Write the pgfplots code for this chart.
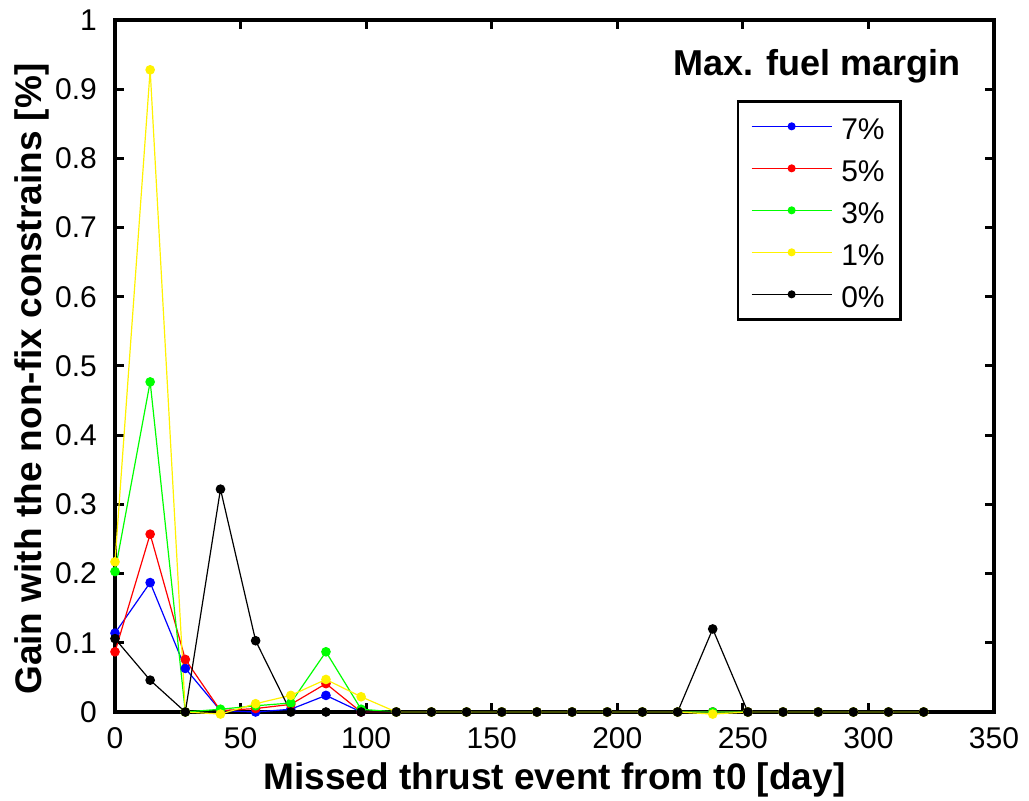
\documentclass[border=0pt]{standalone}
\usepackage{fontspec}
\setmainfont{Liberation Sans}
\usepackage{pgfplots}
\pgfplotsset{compat=1.18}

% gain per missed thrust event day, one table per fuel margin
\pgfplotstableread{
x    y
0    0.114
14   0.187
28   0.063
42   0.002
56   0.000
70   0.004
84   0.024
98   0.000
112  0
126  0
140  0
154  0
168  0
182  0
196  0
210  0
224  0
238  0
252  0
266  0
280  0
294  0
308  0
322  0
}\marginseven
\pgfplotstableread{
x    y
0    0.087
14   0.257
28   0.076
42   0.002
56   0.005
70   0.011
84   0.041
98   0.000
112  0
126  0
140  0
154  0
168  0
182  0
196  0
210  0
224  0
238  0
252  0
266  0
280  0
294  0
308  0
322  0
}\marginfive
\pgfplotstableread{
x    y
0    0.203
14   0.477
28   0.000
42   0.004
56   0.009
70   0.013
84   0.087
98   0.004
112  0
126  0
140  0
154  0
168  0
182  0
196  0
210  0
224  0
238  0
252  0
266  0
280  0
294  0
308  0
322  0
}\marginthree
\pgfplotstableread{
x    y
0    0.217
14   0.928
28   0.000
42   -0.003
56   0.012
70   0.024
84   0.047
98   0.022
112  0
126  0
140  0
154  0
168  0
182  0
196  0
210  0
224  0
238  -0.003
252  0
266  0
280  0
294  0
308  0
322  0
}\marginone
\pgfplotstableread{
x    y
0    0.106
14   0.046
28   0.000
42   0.322
56   0.103
70   0
84   0
98   0
112  0
126  0
140  0
154  0
168  0
182  0
196  0
210  0
224  0
238  0.120
252  0
266  0
280  0
294  0
308  0
322  0
}\marginzero

\begin{document}
\begin{tikzpicture}
\begin{axis}[
    name=ax,
    scale only axis,
    width=879pt, height=692pt,
    xmin=0, xmax=350, ymin=0, ymax=1,
    xtick={0,50,...,350},
    ytick={0,0.1,...,1},
    yticklabels={0,0.1,0.2,0.3,0.4,0.5,0.6,0.7,0.8,0.9,1},
    /pgf/number format/assume math mode=true,
    tick align=inside,
    major tick length=9pt,
    every tick/.style={black, line width=3pt},
    axis line style={line width=4pt},
    ticklabel style={font=\fontsize{30}{32}\selectfont, inner sep=0pt},
    xticklabel style={yshift=-15pt},
    yticklabel style={xshift=-18pt},
    xlabel={Missed thrust event from t0 [day]},
    ylabel={Gain with the non-fix constrains [\%]},
    label style={font=\fontsize{37}{40}\selectfont\bfseries, inner sep=0pt},
    xlabel style={at={(axis description cs:0.5,-0.1127)}, anchor=base},
    ylabel style={at={(axis description cs:-0.0835,0.481)}, anchor=base, rotate=0},
    clip=false,
    every axis plot/.append style={line width=1.2pt, mark=*, mark size=4.2pt},
    legend cell align=left,
    legend image code/.code={%
        \draw[#1, line width=1.2pt, mark=none] (0pt,0pt) -- (80pt,0pt);
        \fill[#1, mark=none] (40pt,0pt) circle[radius=3.4pt];},
    legend style={
        at={(axis description cs:0.8953,0.8844)}, anchor=north east,
        draw=black, line width=2.7pt,
        font=\fontsize{30}{32}\selectfont,
        inner xsep=13pt, inner ysep=9pt,
        row sep=10pt, column sep=6pt,
        nodes={inner sep=3pt, text height=26pt, text depth=0pt},
    },
]
\addplot[color=blue, mark options={fill=blue}] table[x=x, y=y] {\marginseven};
\addlegendentry{7\%}
\addplot[color=red, mark options={fill=red}] table[x=x, y=y] {\marginfive};
\addlegendentry{5\%}
\addplot[color=green, mark options={fill=green}] table[x=x, y=y] {\marginthree};
\addlegendentry{3\%}
\addplot[color=yellow, mark options={fill=yellow}] table[x=x, y=y] {\marginone};
\addlegendentry{1\%}
\addplot[color=black, mark options={fill=black}] table[x=x, y=y] {\marginzero};
\addlegendentry{0\%}

\node[anchor=base, inner sep=0pt, font=\fontsize{36}{40}\selectfont\bfseries]
    at (axis description cs:0.7986,0.9205) {Max. fuel margin};
\end{axis}
% page frame matching the reference image
\path ([shift={(-115pt,-89pt)}]ax.south west) rectangle ++(1029pt,801pt);
\end{tikzpicture}
\end{document}
